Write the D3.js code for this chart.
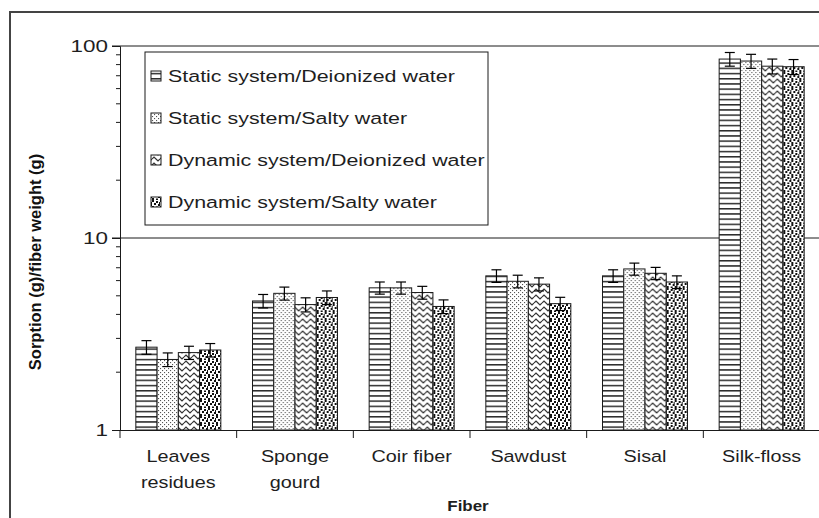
<!DOCTYPE html>
<html><head><meta charset="utf-8">
<script src="https://cdn.jsdelivr.net/npm/d3@7"></script>
<style>
html,body{margin:0;padding:0;background:#fff;}
svg{display:block;font-family:"Liberation Sans",Arial,sans-serif;}
</style></head>
<body><svg id="chart" width="819" height="518"></svg>
<script>
const categories = [["Leaves","residues"],["Sponge","gourd"],["Coir fiber"],["Sawdust"],["Sisal"],["Silk-floss"]];
const seriesNames = ["Static system/Deionized water","Static system/Salty water","Dynamic system/Deionized water","Dynamic system/Salty water"];
const staticDeionized = [2.70, 4.70, 5.50, 6.35, 6.35, 85.5];
const staticSalty     = [2.33, 5.15, 5.50, 5.95, 6.90, 83.5];
const dynamicDeionized= [2.53, 4.50, 5.20, 5.75, 6.55, 78.5];
const dynamicSalty    = [2.61, 4.90, 4.40, 4.55, 5.90, 78.0];
const errStaticDeionized = [0.22, 0.38, 0.40, 0.48, 0.48, 7.0];
const errStaticSalty     = [0.19, 0.40, 0.40, 0.45, 0.50, 7.0];
const errDynamicDeionized= [0.20, 0.38, 0.40, 0.45, 0.48, 7.0];
const errDynamicSalty    = [0.21, 0.40, 0.36, 0.36, 0.45, 7.0];
const yTicks = [1, 10, 100];

(function(){
const values = [staticDeionized, staticSalty, dynamicDeionized, dynamicSalty];
const errors = [errStaticDeionized, errStaticSalty, errDynamicDeionized, errDynamicSalty];

const svg = d3.select("#chart");
const defs = svg.append("defs");
const ink = "#1a1a1a";

let p = defs.append("pattern").attr("id","pat0").attr("patternUnits","userSpaceOnUse").attr("width",6).attr("height",5.2);
p.append("rect").attr("width",6).attr("height",5.2).attr("fill","#fff");
p.append("rect").attr("y",0).attr("width",6).attr("height",1.5).attr("fill","#2a2a2a");

p = defs.append("pattern").attr("id","pat1").attr("patternUnits","userSpaceOnUse").attr("width",4).attr("height",4);
p.append("rect").attr("width",4).attr("height",4).attr("fill","#fff");
p.append("rect").attr("x",0).attr("y",0).attr("width",1.1).attr("height",1.1).attr("fill","#555");
p.append("rect").attr("x",2).attr("y",2).attr("width",1.1).attr("height",1.1).attr("fill","#555");

p = defs.append("pattern").attr("id","pat2").attr("patternUnits","userSpaceOnUse").attr("width",8).attr("height",6);
p.append("rect").attr("width",8).attr("height",6).attr("fill","#fff");
p.append("path").attr("d","M0,3 L2,1 L4,3 L6,5 L8,3").attr("fill","none").attr("stroke","#333").attr("stroke-width",1.1);

p = defs.append("pattern").attr("id","pat3").attr("patternUnits","userSpaceOnUse").attr("width",8).attr("height",8);
p.append("rect").attr("width",8).attr("height",8).attr("fill","#fff");
[[0,0],[4,1],[2,3],[6,4],[0,6],[4,6.5],[7,2]].forEach(([px,py])=>{
  p.append("rect").attr("x",px).attr("y",py).attr("width",2).attr("height",2).attr("fill","#111");
});

svg.append("rect").attr("x",10).attr("y",12).attr("width",900).attr("height",600)
  .attr("fill","none").attr("stroke","#444").attr("stroke-width",2);

const mLeft = 120, mRight = 820, mTop = 46, mBottom = 430;
const y = d3.scaleLog().domain([1,100]).range([mBottom, mTop]);
const x = d3.scaleBand().domain(categories.map((c,i)=>i)).range([mLeft,mRight]).padding(0);
const xs = d3.scaleBand().domain(d3.range(4)).range([0, x.bandwidth()]).paddingInner(0).paddingOuter(0.745);

function stext(parent, tx, ty, str, size, sx, anchor, weight){
  return parent.append("text").attr("transform",`translate(${tx},${ty}) scale(${sx},1)`)
    .attr("text-anchor",anchor||"start").attr("font-size",size).attr("font-weight",weight||"normal")
    .attr("fill","#1e1e1e").text(str);
}

svg.append("g").selectAll("line").data(yTicks.filter(t=>t>1)).join("line")
  .attr("x1", mLeft-8).attr("x2", mRight).attr("y1", d=>y(d)).attr("y2", d=>y(d))
  .attr("stroke", ink).attr("stroke-width",1);

const yAxis = d3.axisLeft(y).tickValues(yTicks).tickSize(8).tickFormat("");
const gy = svg.append("g").attr("transform",`translate(${mLeft},0)`).call(yAxis);
gy.select(".domain").attr("stroke",ink);
gy.selectAll(".tick line").attr("stroke",ink);
const fmt = d3.format("d");
const gyl = svg.append("g");
yTicks.forEach(t=>stext(gyl, mLeft-12, y(t)+6, fmt(t), 17, 1.32, "end"));
const minor = [];
for (const d of [1,10]) for (let k=2;k<=9;k++) minor.push(d*k);
svg.append("g").selectAll("line").data(minor).join("line")
  .attr("x1",mLeft-4).attr("x2",mLeft).attr("y1",d=>y(d)).attr("y2",d=>y(d)).attr("stroke",ink);

const groups = svg.append("g").selectAll("g").data(categories).join("g")
  .attr("transform",(d,i)=>`translate(${x(i)},0)`);
groups.each(function(c,i){
  const g = d3.select(this);
  for (let s=0;s<4;s++){
    const v = values[s][i], e = errors[s][i];
    g.append("rect").attr("x",xs(s)).attr("y",y(v)).attr("width",xs.bandwidth()).attr("height",mBottom-y(v))
      .attr("fill",`url(#pat${s})`).attr("stroke",ink).attr("stroke-width",1);
    const cx = xs(s)+xs.bandwidth()/2;
    g.append("line").attr("x1",cx).attr("x2",cx).attr("y1",y(v+e)).attr("y2",y(v-e)).attr("stroke","#000").attr("stroke-width",1.2);
    g.append("line").attr("x1",cx-5).attr("x2",cx+5).attr("y1",y(v+e)).attr("y2",y(v+e)).attr("stroke","#000").attr("stroke-width",1.2);
    g.append("line").attr("x1",cx-5).attr("x2",cx+5).attr("y1",y(v-e)).attr("y2",y(v-e)).attr("stroke","#000").attr("stroke-width",1.2);
  }
});

const xAxis = d3.axisBottom(x).tickSize(0).tickFormat("");
const gx = svg.append("g").attr("transform",`translate(0,${mBottom})`).call(xAxis);
gx.select(".domain").attr("stroke",ink).attr("d",`M${mLeft-8},0.5H${mRight}`);
svg.append("g").selectAll("line").data(d3.range(categories.length+1)).join("line")
  .attr("x1",d=>mLeft+d*x.step()).attr("x2",d=>mLeft+d*x.step()).attr("y1",mBottom).attr("y2",mBottom+8).attr("stroke",ink);
const gxl = svg.append("g");
categories.forEach((lines,i)=>{
  lines.forEach((line,j)=>stext(gxl, x(i)+x.bandwidth()/2, 462+j*26, line, 16.5, 1.2, "middle"));
});

stext(svg, (mLeft+mRight)/2-2, 511, "Fiber", 15, 1.13, "middle", "bold");
svg.append("text").attr("transform","translate(41,262) rotate(-90)").attr("text-anchor","middle")
  .attr("font-size",16.5).attr("font-weight","bold").attr("fill","#111").text("Sorption (g)/fiber weight (g)");

const lg = svg.append("g");
lg.append("rect").attr("x",145).attr("y",52).attr("width",343).attr("height",173).attr("fill","#fff").attr("stroke",ink).attr("stroke-width",1);
seriesNames.forEach((name,i)=>{
  const cy = 76 + i*42;
  lg.append("rect").attr("x",151).attr("y",cy-5).attr("width",10).attr("height",10).attr("fill",`url(#pat${i})`).attr("stroke",ink);
  stext(lg, 168, cy+6, name, 17, 1.26, "start");
});
})();
</script></body></html>
